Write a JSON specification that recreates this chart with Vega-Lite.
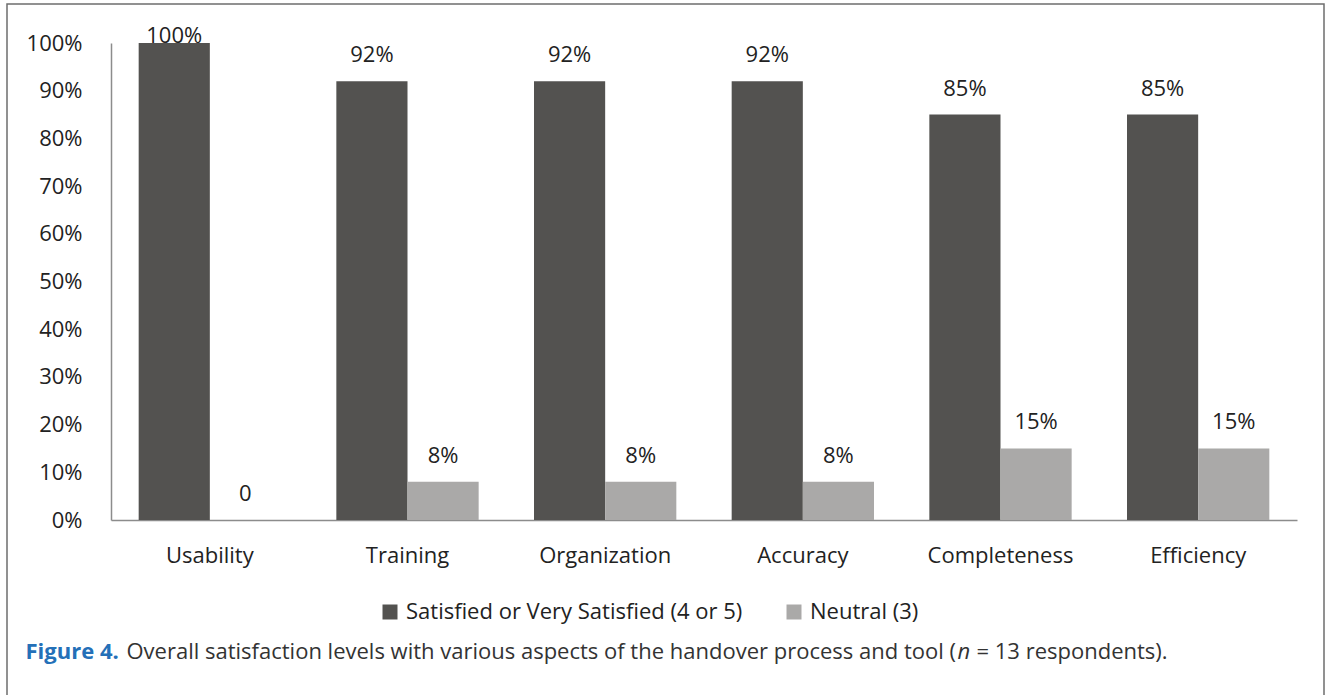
{
  "$schema": "https://vega.github.io/schema/vega-lite/v6.json",
  "width": 1317,
  "height": 700,
  "autosize": {"type": "none"},
  "padding": {"left": 7, "top": 4, "right": 3, "bottom": 0},
  "background": "white",
  "config": {"view": {"stroke": "#6e6e6e", "strokeWidth": 1.5}, "font": "Open Sans"},
  "data": {
    "values": [
      {"aspect": "Usability", "group": "Satisfied or Very Satisfied (4 or 5)", "value": 1.0, "label": "100%"},
      {"aspect": "Usability", "group": "Neutral (3)", "value": 0.0, "label": "0"},
      {"aspect": "Training", "group": "Satisfied or Very Satisfied (4 or 5)", "value": 0.92, "label": "92%"},
      {"aspect": "Training", "group": "Neutral (3)", "value": 0.08, "label": "8%"},
      {"aspect": "Organization", "group": "Satisfied or Very Satisfied (4 or 5)", "value": 0.92, "label": "92%"},
      {"aspect": "Organization", "group": "Neutral (3)", "value": 0.08, "label": "8%"},
      {"aspect": "Accuracy", "group": "Satisfied or Very Satisfied (4 or 5)", "value": 0.92, "label": "92%"},
      {"aspect": "Accuracy", "group": "Neutral (3)", "value": 0.08, "label": "8%"},
      {"aspect": "Completeness", "group": "Satisfied or Very Satisfied (4 or 5)", "value": 0.85, "label": "85%"},
      {"aspect": "Completeness", "group": "Neutral (3)", "value": 0.15, "label": "15%"},
      {"aspect": "Efficiency", "group": "Satisfied or Very Satisfied (4 or 5)", "value": 0.85, "label": "85%"},
      {"aspect": "Efficiency", "group": "Neutral (3)", "value": 0.15, "label": "15%"}
    ]
  },
  "transform": [{"calculate": "min(datum.value, 0.96)", "as": "label_y"}],
  "layer": [
    {
      "mark": {"type": "bar"},
      "encoding": {
        "x": {
          "field": "aspect", "type": "nominal",
          "sort": ["Usability", "Training", "Organization", "Accuracy", "Completeness", "Efficiency"],
          "scale": {"range": [104, 1290], "paddingInner": 0.28, "paddingOuter": 0.14},
          "axis": {
            "orient": "bottom", "offset": -184, "labelAngle": 0, "ticks": false, "tickSize": 0,
            "domainColor": "#8c8c8c", "domainWidth": 1.5, "grid": false,
            "labelFont": "Open Sans", "labelFontSize": 22, "labelColor": "#222222", "labelPadding": 25,
            "title": "Overall satisfaction levels with various aspects of the handover process and tool (",
            "titleFont": "Open Sans", "titleFontSize": 22, "titleFontWeight": "normal", "titleColor": "#333333",
            "titleAlign": "left", "titleBaseline": "alphabetic", "titleAngle": 0,
            "titleX": 119, "titleY": 138
          }
        },
        "xOffset": {
          "field": "group", "type": "nominal",
          "sort": ["Satisfied or Very Satisfied (4 or 5)", "Neutral (3)"],
          "scale": {"paddingInner": 0, "paddingOuter": 0}
        },
        "y": {
          "field": "value", "type": "quantitative",
          "scale": {"domain": [0, 1], "range": [516, 39], "nice": false},
          "axis": {
            "orient": "left", "offset": -104,
            "values": [0, 0.1, 0.2, 0.3, 0.4, 0.5, 0.6, 0.7, 0.8, 0.9, 1.0],
            "format": ".0%", "ticks": false, "tickSize": 0, "grid": false,
            "domainColor": "#8c8c8c", "domainWidth": 1.5,
            "labelFont": "Open Sans", "labelFontSize": 22, "labelColor": "#222222", "labelPadding": 29,
            "title": "Figure 4.", "titleFont": "Open Sans", "titleFontSize": 22, "titleFontWeight": "bold",
            "titleColor": "#2470b8", "titleAngle": 0, "titleAlign": "left", "titleBaseline": "alphabetic",
            "titleX": -86, "titleY": 654
          }
        },
        "color": {
          "field": "group", "type": "nominal",
          "scale": {"domain": ["Satisfied or Very Satisfied (4 or 5)", "Neutral (3)"], "range": ["#535250", "#aaa9a8"]},
          "legend": {
            "orient": "none", "legendX": 372, "legendY": 597, "direction": "horizontal", "title": null,
            "symbolType": "square", "symbolSize": 225, "symbolStrokeWidth": 0, "symbolOpacity": 1,
            "labelFont": "Open Sans", "labelFontSize": 22, "labelColor": "#222222", "labelOffset": 5,
            "columnPadding": 40, "padding": 0, "labelLimit": 600
          }
        }
      }
    },
    {
      "mark": {"type": "text", "font": "Open Sans", "fontSize": 22, "color": "#222222", "baseline": "alphabetic", "align": "center", "dy": -19},
      "encoding": {
        "x": {
          "field": "aspect", "type": "nominal",
          "sort": ["Usability", "Training", "Organization", "Accuracy", "Completeness", "Efficiency"],
          "scale": {"range": [104, 1290], "paddingInner": 0.28, "paddingOuter": 0.14},
          "axis": {
            "orient": "top", "labels": false, "ticks": false, "domain": false, "grid": false,
            "title": "= 13 respondents).",
            "titleFont": "Open Sans", "titleFontSize": 22, "titleFontWeight": "normal", "titleColor": "#333333",
            "titleAlign": "left", "titleBaseline": "alphabetic", "titleAngle": 0,
            "titleX": 969, "titleY": 654
          }
        },
        "xOffset": {
          "field": "group", "type": "nominal",
          "sort": ["Satisfied or Very Satisfied (4 or 5)", "Neutral (3)"],
          "scale": {"paddingInner": 0, "paddingOuter": 0}
        },
        "y": {
          "field": "label_y", "type": "quantitative",
          "scale": {"domain": [0, 1], "range": [516, 39], "nice": false},
          "axis": {
            "orient": "right", "labels": false, "ticks": false, "domain": false, "grid": false,
            "title": "n", "titleFont": "Open Sans", "titleFontSize": 22, "titleFontWeight": "normal",
            "titleFontStyle": "italic", "titleColor": "#333333", "titleAngle": 0, "titleAlign": "left",
            "titleBaseline": "alphabetic", "titleX": -367, "titleY": 654
          }
        },
        "text": {"field": "label", "type": "nominal"}
      }
    }
  ],
  "resolve": {"axis": {"x": "independent", "y": "independent"}}
}
